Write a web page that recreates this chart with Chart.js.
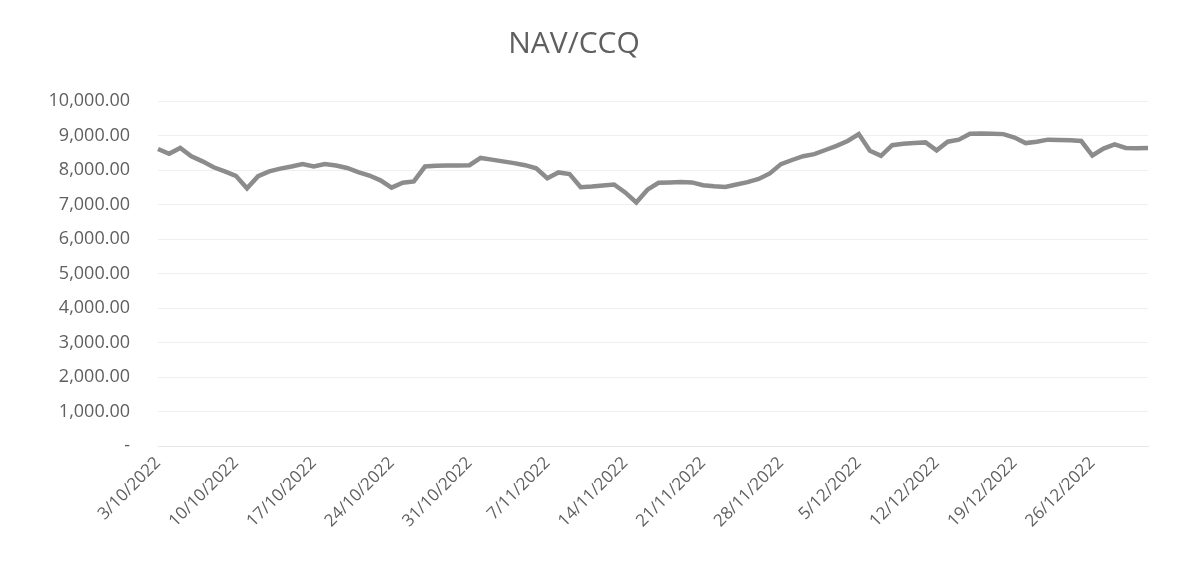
<!DOCTYPE html>
<html>
<head>
<meta charset="utf-8">
<script src="https://cdn.jsdelivr.net/npm/chart.js@4/dist/chart.umd.min.js"></script>
<style>
  html, body { margin: 0; padding: 0; background: #ffffff; }
  #wrap { width: 1192px; height: 576px; }
</style>
</head>
<body>
<div id="wrap"><canvas id="c" width="1192" height="576"></canvas></div>
<script>
const title = "NAV/CCQ";
const startDay = 3, startMonth = 10, year = 2022, numDays = 90;
const navValues = [
  8610, 8470, 8640, 8400, 8250, 8080, 7960, 7830, 7470, 7820,
  7960, 8040, 8100, 8170, 8100, 8170, 8130, 8060, 7940, 7840,
  7700, 7490, 7630, 7670, 8100, 8120, 8130, 8130, 8140, 8350,
  8300, 8250, 8200, 8140, 8050, 7760, 7930, 7880, 7500, 7520,
  7550, 7580, 7350, 7060, 7430, 7630, 7640, 7650, 7640, 7560,
  7530, 7510, 7580, 7650, 7740, 7900, 8170, 8290, 8400, 8460,
  8580, 8700, 8840, 9040, 8560, 8410, 8720, 8760, 8780, 8800,
  8570, 8820, 8880, 9050, 9060, 9050, 9040, 8940, 8780, 8820,
  8880, 8870, 8860, 8840, 8420, 8620, 8740, 8640, 8630, 8640
];
const yTicks = [0, 1000, 2000, 3000, 4000, 5000, 6000, 7000, 8000, 9000, 10000];
const labelStep = 7;

// build date labels d/m/yyyy
const dateLabels = [];
for (let i = 0; i < numDays; i++) {
  const d = new Date(year, startMonth - 1, startDay + i);
  dateLabels.push(d.getDate() + "/" + (d.getMonth() + 1) + "/" + d.getFullYear());
}

const textColor = "#5f5f5f";
const fontFam = "'Open Sans', 'DejaVu Sans', sans-serif";

function fmt(v) {
  if (v === 0) return "-";
  return v.toLocaleString("en-US", { minimumFractionDigits: 2, maximumFractionDigits: 2 });
}

new Chart(document.getElementById("c"), {
  type: "line",
  data: {
    labels: dateLabels,
    datasets: [{
      data: navValues,
      borderColor: "#8c8c8c",
      borderWidth: 4.5,
      pointRadius: 0,
      tension: 0,
      fill: false
    }]
  },
  options: {
    responsive: false,
    animation: false,
    layout: { padding: { left: 0, right: 44, top: 0, bottom: 0 } },
    plugins: {
      legend: { display: false },
      tooltip: { enabled: false },
      title: {
        display: true,
        text: title,
        color: textColor,
        font: { family: fontFam, size: 30, weight: "normal" },
        padding: { top: 26, bottom: 39 }
      }
    },
    scales: {
      x: {
        offset: false,
        grid: { display: false, drawTicks: false },
        border: { display: true, color: "#e6e6e6", width: 1 },
        ticks: {
          autoSkip: false,
          minRotation: 45,
          maxRotation: 45,
          padding: 7,
          color: textColor,
          font: { family: fontFam, size: 17 },
          callback: function (v, i) { return i % labelStep === 0 ? dateLabels[i] : ""; }
        },
        afterFit: function (s) { s.height = 130; }
      },
      y: {
        min: 0,
        max: 10000,
        afterBuildTicks: function (s) { s.ticks = yTicks.map(v => ({ value: v })); },
        grid: { color: "#efefef", drawTicks: false, lineWidth: 1 },
        border: { display: false },
        ticks: {
          padding: 28,
          color: textColor,
          font: { family: fontFam, size: 18 },
          callback: function (v) { return fmt(v); }
        },
        afterFit: function (s) { s.width = 158; }
      }
    }
  }
});
</script>
</body>
</html>
